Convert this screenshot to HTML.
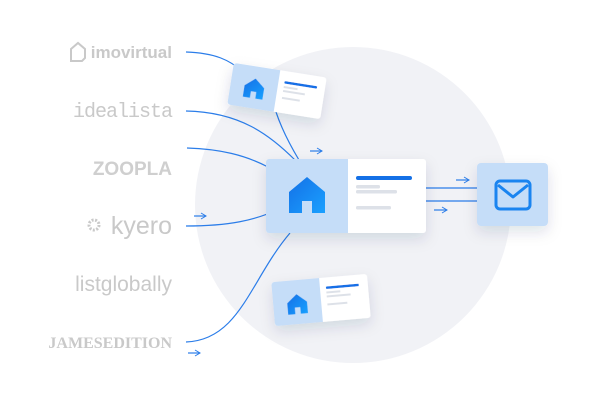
<!DOCTYPE html>
<html><head><meta charset="utf-8"><style>
body{margin:0;width:600px;height:401px;background:#fff;overflow:hidden;font-family:"Liberation Sans",sans-serif}
</style></head><body>
<svg width="600" height="401" viewBox="0 0 600 401" xmlns="http://www.w3.org/2000/svg">
<defs>
<linearGradient id="hg" x1="0" y1="0" x2="1" y2="1"><stop offset="0" stop-color="#1470e6"/><stop offset="1" stop-color="#1aa0ff"/></linearGradient>
<filter id="sh" x="-30%" y="-30%" width="160%" height="180%"><feDropShadow dx="0" dy="6" stdDeviation="7" flood-color="#1a2a50" flood-opacity="0.13"/></filter>
<marker id="ar" markerWidth="8" markerHeight="8" refX="7" refY="4" orient="auto" markerUnits="userSpaceOnUse"><path d="M2,1 L7,4 L2,7" fill="none" stroke="#2b7de9" stroke-width="1"/></marker>
<g id="house"><path d="M0,-18 L18,-3 L18,18 L5,18 L5,6 L-5,6 L-5,18 L-18,18 L-18,-3 Z" fill="url(#hg)"/></g>
</defs>
<circle cx="353" cy="205" r="158" fill="#f1f2f6"/>
<g fill="#c9c9c9" font-weight="bold" text-anchor="end">
<path d="M71,49 l7,-6 l7,6 v9 l-3,3 h-11z" fill="none" stroke="#c9c9c9" stroke-width="2"/>
<text x="172" y="58" font-size="17">imovirtual</text>
<text x="172" y="117" font-size="20" font-weight="normal" font-family="Liberation Mono,monospace" letter-spacing="-1">idealista</text>
<text x="172" y="175" font-size="19" fill="#cfcfcf">ZOOPLA</text>
<text x="172" y="234" font-size="25" font-weight="normal">kyero</text>
<circle cx="94" cy="225" r="5" fill="none" stroke="#c9c9c9" stroke-width="3" stroke-dasharray="2 1.5"/>
<text x="172" y="291" font-size="21" font-weight="normal">listglobally</text>
<text x="172" y="348" font-size="16" font-family="Liberation Serif,serif">JAMESEDITION</text>
</g>
<g fill="none" stroke="#2b7de9" stroke-width="1.2">
<path d="M186,52 C215,53 230,60 243,72"/>
<path d="M186,111 C240,112 270,135 295,160"/>
<path d="M187,148 C220,149 245,155 268,167"/>
<path d="M186,226 C230,226 255,220 277,210"/>
<path d="M186,342 C240,340 250,280 290,233"/>
<path d="M276,112 C282,130 290,145 299,160"/>
<path d="M426,188 H478"/><path d="M426,201 H478"/>
<path d="M310,151 H322" marker-end="url(#ar)"/>
<path d="M194,216 H206" marker-end="url(#ar)"/>
<path d="M188,353 H200" marker-end="url(#ar)"/>
<path d="M456,180 H469" marker-end="url(#ar)"/>
<path d="M434,210 H447" marker-end="url(#ar)"/>
</g>
<g transform="translate(277,91) rotate(9)" filter="url(#sh)">
<rect x="-47" y="-21" width="94" height="42" rx="3" fill="#fff"/>
<path d="M-44,-21 H0 V21 H-44 A3,3 0 0 1 -47,18 V-18 A3,3 0 0 1 -44,-21Z" fill="#c5ddf8"/>
<use href="#house" transform="translate(-23,1) scale(0.55)"/>
<rect x="6" y="-11" width="33" height="2.5" rx="1" fill="#1470e6"/>
<rect x="6" y="-6" width="14" height="2" fill="#dde1e8"/>
<rect x="6" y="-2" width="22" height="2" fill="#dde1e8"/>
<rect x="6" y="5" width="18" height="2" fill="#dde1e8"/>
</g>
<g filter="url(#sh)">
<rect x="266" y="159" width="160" height="74" rx="3" fill="#fff"/>
<path d="M269,159 H348 V233 H269 A3,3 0 0 1 266,230 V162 A3,3 0 0 1 269,159Z" fill="#c5ddf8"/>
</g>
<use href="#house" transform="translate(307,195)"/>
<rect x="356" y="176" width="56" height="4" rx="2" fill="#1470e6"/>
<rect x="356" y="185" width="24" height="3.5" rx="1.5" fill="#dde1e8"/>
<rect x="356" y="190" width="41" height="3.5" rx="1.5" fill="#dde1e8"/>
<rect x="356" y="206" width="35" height="3.5" rx="1.5" fill="#dde1e8"/>
<rect x="477" y="163" width="71" height="63" rx="4" fill="#c5ddf8" filter="url(#sh)"/>
<rect x="496" y="181" width="34" height="28" rx="4" fill="none" stroke="#1a84f0" stroke-width="3"/>
<path d="M498,185 L513,197 L528,185" fill="none" stroke="#1a84f0" stroke-width="3" stroke-linejoin="round"/>
<g transform="translate(321,300) rotate(-5)" filter="url(#sh)">
<rect x="-48" y="-22" width="96" height="44" rx="3" fill="#fff"/>
<path d="M-45,-22 H0 V22 H-45 A3,3 0 0 1 -48,19 V-19 A3,3 0 0 1 -45,-22Z" fill="#c5ddf8"/>
<use href="#house" transform="translate(-24,2) scale(0.55)"/>
<rect x="6" y="-13" width="33" height="2.5" rx="1" fill="#1470e6"/>
<rect x="6" y="-8" width="14" height="2" fill="#dde1e8"/>
<rect x="6" y="-4" width="24" height="2" fill="#dde1e8"/>
<rect x="6" y="4" width="20" height="2" fill="#dde1e8"/>
</g>
</svg>
</body></html>
